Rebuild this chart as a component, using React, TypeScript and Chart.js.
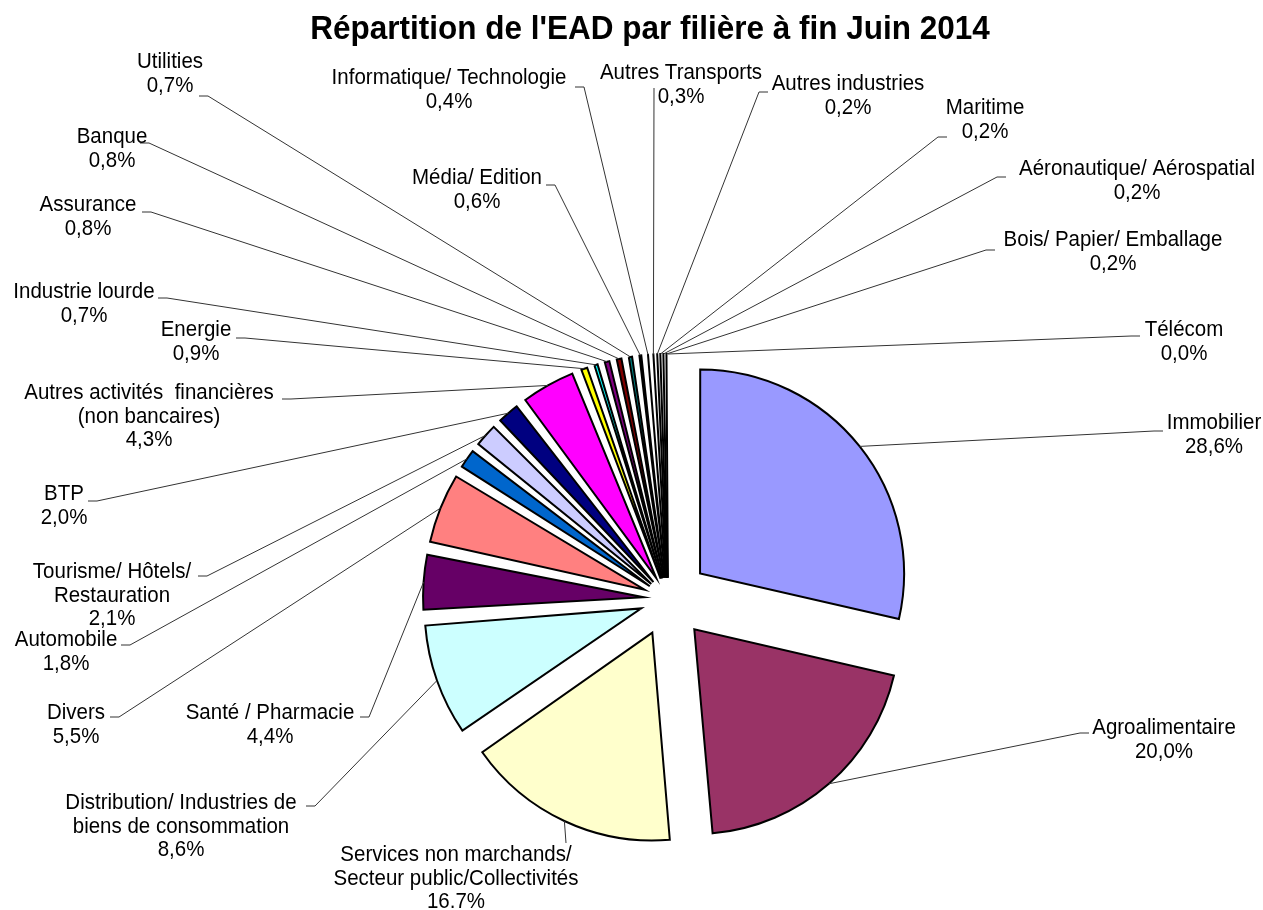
import React, { useEffect, useRef } from "react";
import { Chart, registerables } from "chart.js";

Chart.register(...registerables);

const chartTitle = "Répartition de l'EAD par filière à fin Juin 2014";

const categories = [
  "Immobilier",
  "Agroalimentaire",
  "Services non marchands/\nSecteur public/Collectivités",
  "Distribution/ Industries de\nbiens de consommation",
  "Santé / Pharmacie",
  "Divers",
  "Automobile",
  "Tourisme/ Hôtels/\nRestauration",
  "BTP",
  "Autres activités  financières\n(non bancaires)",
  "Energie",
  "Industrie lourde",
  "Assurance",
  "Banque",
  "Utilities",
  "Média/ Edition",
  "Informatique/ Technologie",
  "Autres Transports",
  "Autres industries",
  "Maritime",
  "Aéronautique/ Aérospatial",
  "Bois/ Papier/ Emballage",
  "Télécom",
];

const shares = [
  28.6, 20.0, 16.7, 8.6, 4.4, 5.5, 1.8, 2.1, 2.0, 4.3, 0.9, 0.7, 0.8, 0.8, 0.7,
  0.6, 0.4, 0.3, 0.2, 0.2, 0.2, 0.2, 0.0,
];

// categories whose label uses a point as decimal separator (as in the original)
const pointDecimal = new Set(["Services non marchands/\nSecteur public/Collectivités"]);

const sliceColors = [
  "#9999FF", "#993366", "#FFFFCC", "#CCFFFF", "#660066", "#FF8080", "#0066CC",
  "#CCCCFF", "#000080", "#FF00FF", "#FFFF00", "#00FFFF", "#800080", "#800000",
  "#008080", "#0000FF", "#00CCFF", "#CCFFFF", "#CCFFCC", "#FFFF99", "#99CCFF",
  "#FF99CC", "#CC99FF",
];

// label layout: [text centre x, first line centre y, leader end x, leader end y]
const labelLayout: number[][] = [
  [1214, 423, 1163, 431],
  [1164, 728, 1089, 733],
  [456, 855, 566, 843],
  [181, 803, 306, 806],
  [270, 713, 360, 717],
  [76, 713, 110, 717],
  [66, 640, 121, 645],
  [112, 572, 198, 576],
  [64, 494, 88, 501],
  [149, 393, 282, 399],
  [196, 330, 236, 338],
  [84, 292, 158, 298],
  [88, 205, 142, 212],
  [112, 137, 140, 143],
  [170, 62, 199, 96],
  [477, 178, 546, 185],
  [449, 78, 575, 87],
  [681, 73, 654, 88],
  [848, 84, 768, 92],
  [985, 108, 947, 137],
  [1137, 169, 1006, 177],
  [1113, 240, 995, 250],
  [1184, 330, 1140, 336],
];

const W = 1263;
const H = 910;
const EXPLODE = 42;
const RADIUS = 203;
const ELBOW = 9;
const LINE_H = 23.5;
const TEXT_STRETCH = 1.1;
const LABEL_FONT = '20.5px "Liberation Sans", Arial, sans-serif';
const TITLE_FONT = 'bold 31.5px "Liberation Sans", Arial, sans-serif';

const total = shares.reduce((a, b) => a + b, 0);

function fmtPct(v: number, name: string) {
  const s = v.toFixed(1);
  return (pointDecimal.has(name) ? s : s.replace(".", ",")) + "%";
}

function stretchedText(ctx: CanvasRenderingContext2D, s: string, x: number, y: number, sy: number) {
  ctx.save();
  ctx.translate(x, y);
  ctx.scale(1, sy);
  ctx.fillText(s, 0, 0);
  ctx.restore();
}

const labelPlugin = {
  id: "pieLabels",
  afterDatasetsDraw(chart: any) {
    const ctx = chart.ctx as CanvasRenderingContext2D;
    const meta = chart.getDatasetMeta(0);
    ctx.save();
    // leader lines
    ctx.strokeStyle = "#333";
    ctx.lineWidth = 1;
    meta.data.forEach((arc: any, i: number) => {
      const p = arc.getProps(["x", "y", "startAngle", "endAngle", "outerRadius"], true);
      const h = (p.startAngle + p.endAngle) / 2;
      const r = p.outerRadius + EXPLODE;
      const px = p.x + Math.cos(h) * r;
      const py = p.y + Math.sin(h) * r;
      const [, , lx, ly] = labelLayout[i];
      const dir = px > lx ? 1 : -1;
      const ex = Math.abs(px - lx) < 30 ? lx : lx + dir * ELBOW;
      ctx.beginPath();
      ctx.moveTo(lx, ly);
      ctx.lineTo(ex, ly);
      ctx.lineTo(px, py);
      ctx.stroke();
    });
    // label texts
    ctx.fillStyle = "#000";
    ctx.font = LABEL_FONT;
    ctx.textAlign = "center";
    ctx.textBaseline = "middle";
    categories.forEach((name, i) => {
      const [cx, cy] = labelLayout[i];
      const lines = name.split("\n").concat(fmtPct(shares[i], name));
      lines.forEach((ln, k) => stretchedText(ctx, ln, cx, cy + k * LINE_H, TEXT_STRETCH));
    });
    // title
    ctx.font = TITLE_FONT;
    stretchedText(ctx, chartTitle, 650, 30, 1.04);
    ctx.restore();
  },
};

export default function App() {
  const ref = useRef<HTMLCanvasElement | null>(null);
  useEffect(() => {
    if (!ref.current) return;
    const chart = new Chart(ref.current, {
      type: "pie",
      data: {
        labels: categories,
        datasets: [
          {
            data: shares,
            backgroundColor: sliceColors,
            borderColor: "#000",
            borderWidth: 2,
            borderJoinStyle: "miter",
            offset: (c: any) => {
              const circ = ((c.raw as number) / total) * Math.PI * 2;
              const fix = 1 - Math.sin(Math.min(Math.PI, circ));
              return (4 * EXPLODE) / (1 + fix);
            },
          } as any,
        ],
      },
      options: {
        responsive: false,
        animation: false,
        radius: RADIUS,
        layout: { padding: { left: 73, right: 0, top: 288, bottom: 0 } },
        plugins: {
          legend: { display: false },
          tooltip: { enabled: false },
          title: { display: false },
        },
        events: [],
      } as any,
      plugins: [labelPlugin],
    });
    return () => chart.destroy();
  }, []);
  return (
    <div style={{ position: "absolute", left: 0, top: 0, width: W, height: H, background: "#fff" }}>
      <canvas ref={ref} width={W} height={H} style={{ display: "block" }} />
    </div>
  );
}
